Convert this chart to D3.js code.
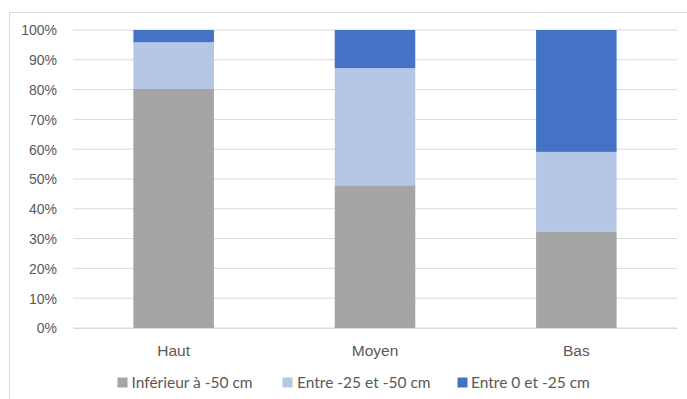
<!DOCTYPE html>
<html><head><meta charset="utf-8">
<script src="https://cdn.jsdelivr.net/npm/d3@7"></script>
<style>body{margin:0;background:#fff;}svg{display:block;font-family:Lato, "Open Sans", sans-serif;}</style>
</head><body>
<svg id="c" width="687" height="399"></svg>
<script>
const categories = ["Haut", "Moyen", "Bas"];
const seriesNames = ["Inférieur à -50 cm", "Entre -25 et -50 cm", "Entre 0 et -25 cm"];
const inferieur50 = [80.2, 47.9, 32.4];
const entre25et50 = [15.7, 39.3, 26.7];
const entre0et25 = [4.1, 12.8, 40.9];
const colors = ["#A5A5A5", "#B4C7E7", "#4472C4"];
const yTicks = [0, 10, 20, 30, 40, 50, 60, 70, 80, 90, 100];

const svg = d3.select("#c");
svg.append("rect").attr("x", 9.5).attr("y", 12.5).attr("width", 690).attr("height", 400)
  .attr("fill", "#fff").attr("stroke", "#D9D9D9");

const m = {l: 73, r: 677, t: 30, b: 328};
const x = d3.scaleBand().domain(categories).range([m.l, m.r]).paddingInner(0.6).paddingOuter(0.3);
const y = d3.scaleLinear().domain([0, 100]).range([m.b, m.t]);

const g = svg.append("g");
g.selectAll("line.grid").data(yTicks).join("line")
  .attr("x1", m.l).attr("x2", m.r).attr("y1", d => y(d)).attr("y2", d => y(d))
  .attr("stroke", "#D9D9D9").attr("stroke-width", 1);

const rows = categories.map((c, i) => ({cat: c, s0: inferieur50[i], s1: entre25et50[i], s2: entre0et25[i]}));
const stack = d3.stack().keys(["s0", "s1", "s2"])(rows);
stack.forEach((layer, li) => {
  g.selectAll(null).data(layer).join("rect")
    .attr("x", d => x(d.data.cat)).attr("width", x.bandwidth())
    .attr("y", d => y(d[1])).attr("height", d => y(d[0]) - y(d[1]))
    .attr("fill", colors[li]);
});

const yAxis = d3.axisLeft(y).tickValues(yTicks).tickFormat(d => d + "%").tickSize(0).tickPadding(0);
const ya = svg.append("g").attr("transform", `translate(57,0)`).call(yAxis);
ya.select(".domain").remove();
ya.selectAll("text").attr("fill", "#595959").style("font-size", "14px").attr("dy", "0.35em");

const xAxis = d3.axisBottom(x).tickSize(0).tickPadding(0);
const xa = svg.append("g").attr("transform", `translate(0,${m.b})`).call(xAxis);
xa.select(".domain").attr("stroke", "#D9D9D9");
xa.selectAll("text").attr("fill", "#595959").style("font-size", "15.5px").attr("y", 23).attr("dy", "0.35em");

const legSw = [117.5, 282.5, 457.5];
const legTx = [131.5, 297, 471];
const leg = svg.append("g");
seriesNames.forEach((n, i) => {
  leg.append("rect").attr("x", legSw[i]).attr("y", 377.5).attr("width", 10).attr("height", 10).attr("fill", colors[i]);
  leg.append("text").attr("x", legTx[i]).attr("y", 382.5).attr("dy", "0.35em")
    .attr("fill", "#595959").style("font-size", "15.5px").text(n);
});
</script>
</body></html>
